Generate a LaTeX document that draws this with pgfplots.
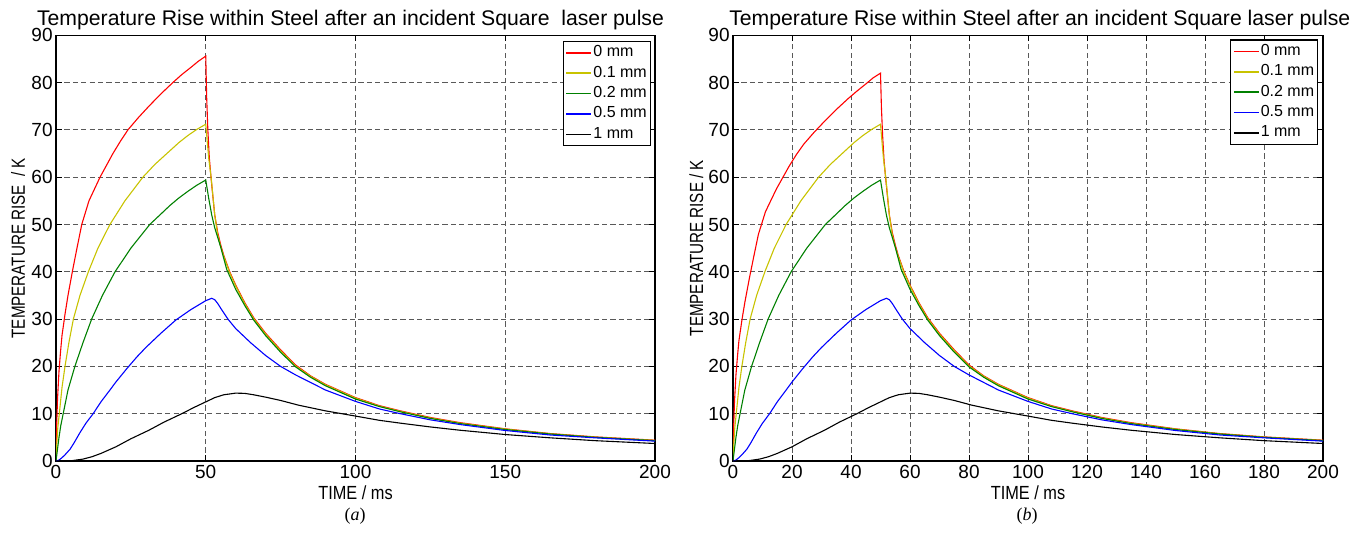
\documentclass[border=0pt]{standalone}
\usepackage{fontspec}
\setmainfont{Liberation Sans}
\newfontfamily\capfont{Liberation Serif}
\newfontfamily\ylabfont[FakeStretch=0.8]{Liberation Sans}
\newfontfamily\xlabfont[FakeStretch=0.86]{Liberation Sans}
\usepackage{pgfplots}
\usepackage{pgfplotstable}
\pgfplotsset{compat=1.18}

\definecolor{myyellow}{RGB}{200,195,0}
\definecolor{mygreen}{RGB}{0,128,0}

% shared curves (both panels)
\pgfplotstableread{
t T
0 0
0.3 4
0.6 7
1.1 10
2 15.5
3 20
4.3 25
5.8 30
8 35
10.8 40
14 45
18 50
23 55
29 60
33 62.7
37 65
41 67.3
44 68.8
47 70.1
50 71.2
50.5 67.5
51 64
51.9 59.3
53 52
54 47.8
55 45.3
56 43.3
58 39.8
60 37
63 33.3
66 30.1
70 26.8
75 23.3
80 20.1
85 17.9
90 16.1
100 13.3
108 11.6
115 10.5
125 9.1
135 8.0
150 6.75
165 5.75
180 5.05
200 4.35
}\yellowdata

\pgfplotstableread{
t T
0 0
0.5 2.5
1 5
1.6 7.5
2.4 10
4 15
6.3 20
9 25
11.9 30
15.5 35
19.7 40
25 45
31.3 50
35 52.2
38 54
41 55.6
44 57
47 58.3
50 59.4
51 55.5
52 52
53 49.3
55 45.2
57 40.5
60 36.3
63 32.9
66 29.8
70 26.5
75 23
80 19.9
85 17.7
90 15.9
100 13.1
108 11.5
115 10.4
125 9.0
135 7.9
150 6.65
165 5.7
180 5.0
200 4.3
}\greendata

\pgfplotstableread{
t T
0 0
1 0.2
2 0.7
3 1.3
4.7 2.5
6 3.8
8 6
10 8
12.4 10
15 12.5
18 15
20 16.7
23.6 19.5
27 22
30 24
35 27
40 29.8
45 32
50 33.9
52 34.4
53 34.1
54 33.3
55 32.3
57.4 30
60 28
65 25
70 22.3
75 20
80 18.2
90 15
100 12.6
108 11
115 10
125 8.7
135 7.7
150 6.45
165 5.5
180 4.9
200 4.2
}\bluedata

\pgfplotstableread{
t T
0 0
5 0.05
9 0.4
12 0.9
15 1.6
20 3
25 4.7
31 6.5
36 8.2
42 10
46 11.3
50 12.5
53 13.4
56 14
60 14.35
63 14.3
66 14
70 13.5
75 12.8
81 11.8
90 10.6
100 9.5
108 8.6
115 8
125 7.2
135 6.5
150 5.6
165 4.9
180 4.3
200 3.7
}\blackdata

% 0 mm, panel (a)
\pgfplotstableread{
t T
0 0
0.2 7
0.5 13
1 19
1.5 23
2 26.5
3 31
4 35
5.6 40.5
7 45
8.6 50
11 55
14.7 60
19 65
21.5 67.6
24 70
27.5 72.6
31 75
35 77.6
39 80
42 81.7
45 83.2
47.5 84.5
50 85.6
50.3 77
50.7 70
51.2 64
51.9 59
53 52
54 48.3
55 45.7
56 43.5
58 40
60 37.2
63 33.5
66 30.3
70 27
75 23.5
80 20.3
85 18
90 16.2
100 13.4
108 11.7
115 10.6
125 9.2
135 8.1
150 6.8
165 5.8
180 5.1
200 4.4
}\redA

% 0 mm, panel (b)
\pgfplotstableread{
t T
0 0
0.2 6.7
0.5 12.5
1 18.2
1.5 22
2 25.4
3 29.7
4 33.5
5.6 38.8
7 43.1
8.6 47.9
11 52.7
14.7 57.5
19 62.3
21.5 64.8
24 67
27.5 69.5
31 71.8
35 74.3
39 76.6
42 78.2
45 79.7
47.5 81
50 82
50.3 75
50.7 69
51.2 63.5
51.9 58.8
53 52
54 48.3
55 45.7
56 43.5
58 40
60 37.2
63 33.5
66 30.3
70 27
75 23.5
80 20.3
85 18
90 16.2
100 13.4
108 11.7
115 10.6
125 9.2
135 8.1
150 6.8
165 5.8
180 5.1
200 4.4
}\redB

\pgfplotsset{
  panel/.style={
    scale only axis,
    height=212.85pt,
    xmin=0, xmax=200, ymin=0, ymax=90,
    ytick={0,10,...,90},
    tick align=inside, tick pos=both,
    major tick length=3pt,
    axis line style={line width=0.6pt},
    every tick/.style={black, line width=0.5pt},
    grid=major,
    major grid style={black!65, line width=0.5pt, dash pattern=on 2.6pt off 1.6pt},
    /pgf/number format/assume math mode=true,
    ticklabel style={font=\fontsize{9.5}{11}\selectfont},
    xticklabel style={inner sep=2pt},
    yticklabel style={inner sep=1.5pt},
    every axis title/.style={font=\fontsize{10.6}{12}\selectfont, anchor=base},
    xlabel style={font=\xlabfont\fontsize{9.5}{11}\selectfont, anchor=base},
    ylabel style={font=\ylabfont\fontsize{9.5}{11}\selectfont, anchor=base, rotate=0},
    legend cell align=left,
    legend style={font=\fontsize{8}{9}\selectfont, anchor=north east,
      draw=black, line width=0.6pt, inner xsep=1.2pt, inner ysep=0.6pt,
      row sep=0pt,
      nodes={inner xsep=0.6pt, inner ysep=0pt, minimum height=10.2pt}},
    legend image code/.code={\draw[#1, line width=0.8pt] (0pt,0pt) -- (12.5pt,0pt);},
    every axis plot/.append style={line width=0.55pt},
  }
}

\begin{document}
\begin{tikzpicture}
\path[use as bounding box] (0,0) rectangle (680pt,-270pt);

\begin{axis}[panel, width=299.5pt,
  at={(28pt,-230.5pt)}, anchor=south west,
  xtick={0,50,...,200},
  title={Temperature Rise within Steel after an incident Square~ laser pulse},
  title style={at={(axis description cs:0.4917,1.024)}},
  xlabel={TIME / ms},
  xlabel style={at={(axis description cs:0.5,-0.0916)}},
  ylabel={TEMPERATURE RISE~ / K},
  ylabel style={at={(axis description cs:-0.0518,0.5)}},
  legend style={at={(axis description cs:1,1)}, xshift=-2pt, yshift=-2.7pt},
]
\addplot[red] table[x=t, y=T] {\redA};
\addplot[myyellow] table[x=t, y=T] {\yellowdata};
\addplot[mygreen] table[x=t, y=T] {\greendata};
\addplot[blue] table[x=t, y=T] {\bluedata};
\addplot[black] table[x=t, y=T] {\blackdata};
\legend{0 mm, 0.1 mm, 0.2 mm, 0.5 mm, 1 mm}
\end{axis}

\begin{axis}[panel, width=295pt,
  at={(366.5pt,-230.5pt)}, anchor=south west,
  xtick={0,20,...,200},
  title={Temperature Rise within Steel after an incident Square laser pulse},
  title style={at={(axis description cs:0.52,1.024)}},
  xlabel={TIME / ms},
  xlabel style={at={(axis description cs:0.5,-0.0916)}},
  ylabel={TEMPERATURE RISE / K},
  ylabel style={at={(axis description cs:-0.0508,0.5)}},
  legend style={at={(axis description cs:1,1)}, xshift=-2.35pt, yshift=-2pt},
]
\addplot[red] table[x=t, y=T] {\redB};
\addplot[myyellow] table[x=t, y=T] {\yellowdata};
\addplot[mygreen] table[x=t, y=T] {\greendata};
\addplot[blue] table[x=t, y=T] {\bluedata};
\addplot[black] table[x=t, y=T] {\blackdata};
\legend{0 mm, 0.1 mm, 0.2 mm, 0.5 mm, 1 mm}
\end{axis}

\node[font=\capfont\fontsize{9}{10}\selectfont] at (177.5pt,-258pt) {(\textit{a})};
\node[font=\capfont\fontsize{9}{10}\selectfont] at (513.5pt,-258pt) {(\textit{b})};
\end{tikzpicture}
\end{document}
